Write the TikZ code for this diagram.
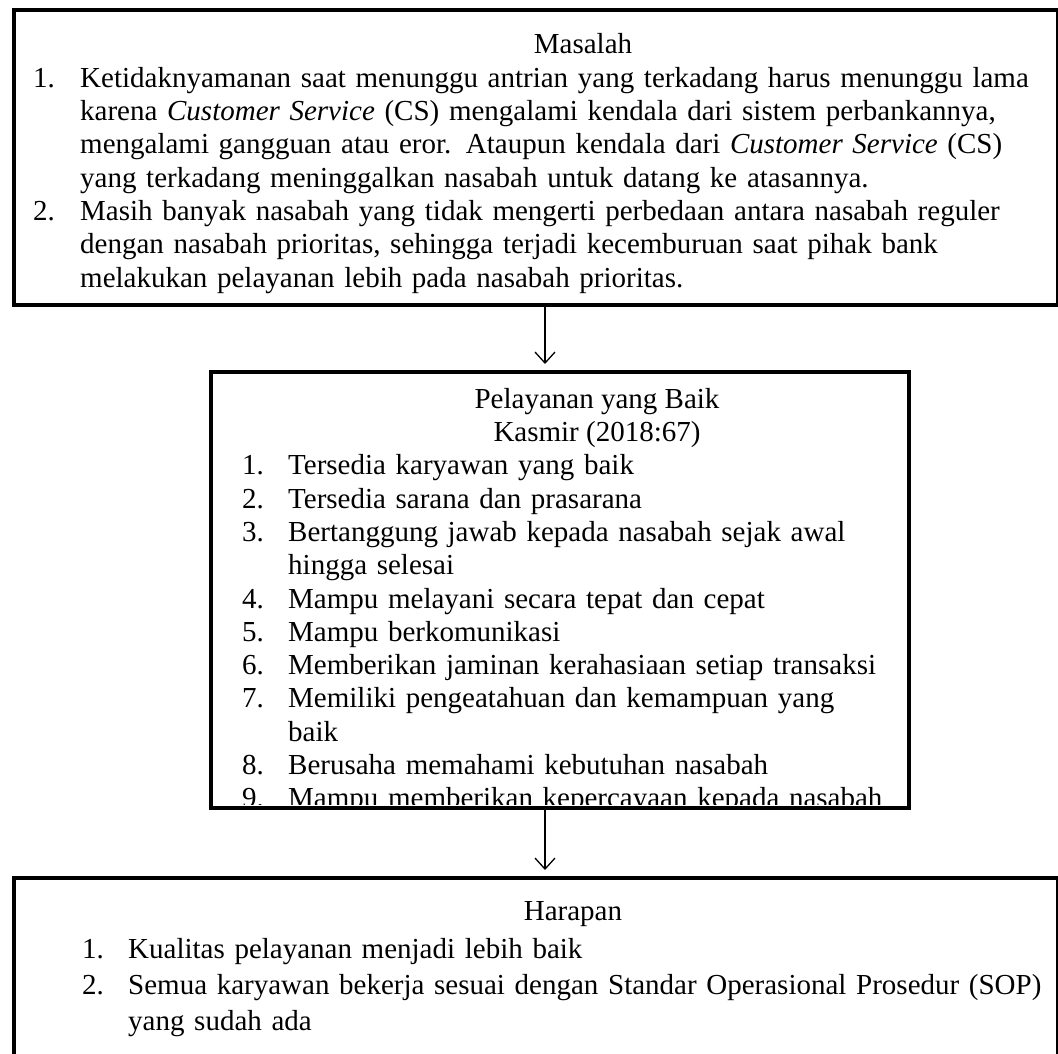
\documentclass[tikz,border=0pt]{standalone}
\usepackage{fontspec}
\setmainfont{Liberation Serif}
\usetikzlibrary{arrows.meta}
\usetikzlibrary{positioning}
\newcommand{\bodyfont}{\fontsize{29}{33.3}\selectfont}
\newcommand{\wideline}{\fontsize{29}{36}\selectfont}
\newcommand{\jline}[1]{\makebox[\hsize][s]{#1}}

\begin{document}
\begin{tikzpicture}[x=1pt, y=-1pt,
        every node/.style={font=\bodyfont},
        frame/.style={draw, line width=4pt, anchor=north west, inner sep=0pt},
        title/.style={anchor=base, inner sep=0pt},
        txt/.style={anchor=north west, inner sep=0pt, yshift=23.3pt, align=left},
        txtwide/.style={anchor=north west, inner sep=0pt, yshift=25.2pt, align=left, font=\wideline},
        arrow/.style={-{Straight Barb[length=11pt, width=20pt]}, line width=1.3pt, shorten >=6pt},
      ]
        \useasboundingbox (0,0) rectangle (1058,1054);

        % Masalah
        \node[frame, minimum width=1044pt, minimum height=295pt] (masalah) at (12,8) {};
        \node[title] (masalahT) at (583,54) {Masalah};
        \node[txt] (m1) at (33,87) {\strut 1.};
        \node[txt, text width=957pt] (m1t) at (80,87) {\strut\jline{Ketidaknyamanan saat menunggu antrian yang terkadang harus menunggu lama}\\
          \jline{karena \textit{Customer Service} (CS) mengalami kendala dari sistem perbankannya,}\\
          \jline{mengalami gangguan atau eror. Ataupun kendala dari \textit{Customer Service} (CS)}\\
          yang terkadang meninggalkan nasabah untuk datang ke atasannya.};
        \node[txt] (m2) at (33,220.2) {\strut 2.};
        \node[txt, text width=957pt] (m2t) at (80,220.2) {\strut\jline{Masih banyak nasabah yang tidak mengerti perbedaan antara nasabah reguler}\\
          \jline{dengan nasabah prioritas, sehingga terjadi kecemburuan saat pihak bank}\\
          melakukan pelayanan lebih pada nasabah prioritas.};

        % Pelayanan yang Baik
        \begin{scope}
          \clip (209,370) rectangle (907,804);
          \node[title] (baikT) at (597,408) {Pelayanan yang Baik};
          \node[title] (kasmir) at (597,441.3) {Kasmir (2018:67)};
          \foreach \i/\row in {1/2,2/3,3/4,4/6,5/7,6/8,7/9,8/11,9/12}
            \node[txt] (b\i) at (242,408+33.3*\row) {\strut\i.};
          \node[txt, text width=610pt] (bt) at (288,474.6) {\strut Tersedia karyawan yang baik\\
            Tersedia sarana dan prasarana\\
            Bertanggung jawab kepada nasabah sejak awal\\
            hingga selesai\\
            Mampu melayani secara tepat dan cepat\\
            Mampu berkomunikasi\\
            Memberikan jaminan kerahasiaan setiap transaksi\\
            Memiliki pengeatahuan dan kemampuan yang\\
            baik\\
            Berusaha memahami kebutuhan nasabah\\
            Mampu memberikan kepercayaan kepada nasabah};
        \end{scope}
        \node[frame, minimum width=698pt, minimum height=436pt] (pelayanan) at (209,370) {};

        % Harapan
        \node[frame, minimum width=1044pt, minimum height=300pt] (harapan) at (12,876) {};
        \node[title] (harapanT) at (573,920) {Harapan};
        \node[txtwide] (h1) at (82,958) {\strut 1.};
        \node[txtwide] (h2) at (82,994) {\strut 2.};
        \node[txtwide, text width=935pt] (ht) at (128,958) {\strut Kualitas pelayanan menjadi lebih baik\\
          Semua karyawan bekerja sesuai dengan Standar Operasional Prosedur (SOP)\\
          yang sudah ada};

        \coordinate (axis) at (545,0);
        \draw[arrow] (masalah.south -| axis) -- (pelayanan.north -| axis);
        \draw[arrow] (pelayanan.south -| axis) -- (harapan.north -| axis);
      \end{tikzpicture}
\end{document}
